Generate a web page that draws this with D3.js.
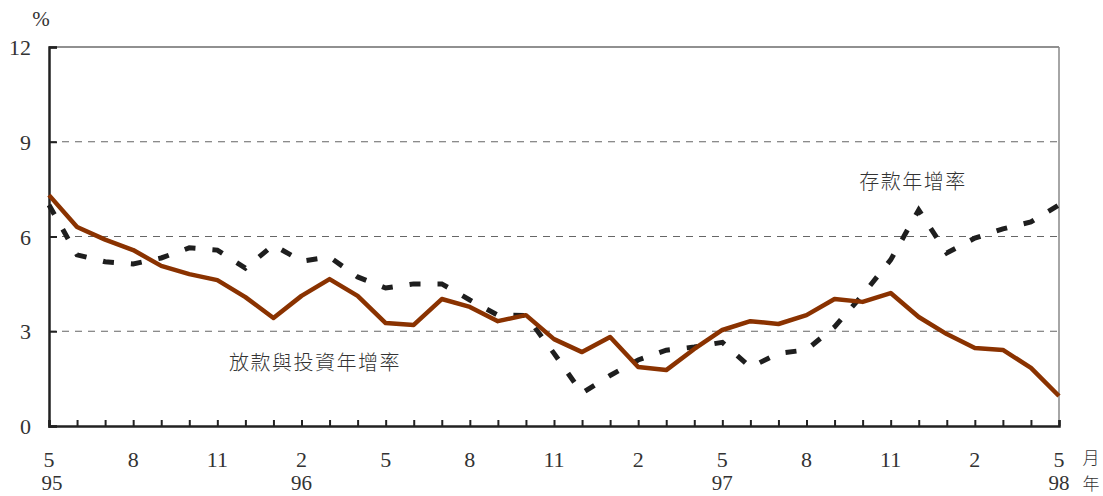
<!DOCTYPE html>
<html><head><meta charset="utf-8">
<script src="https://cdn.jsdelivr.net/npm/d3@7/dist/d3.min.js"></script>
<style>body{margin:0;background:#fff;}svg{display:block;}
.sf{font-family:"Liberation Serif","Times New Roman","Tinos","Nimbus Roman","DejaVu Serif",serif;}</style>
</head><body><svg id="c" width="1103" height="496"></svg>
<script>
const months = [5,6,7,8,9,10,11,12,1,2,3,4,5,6,7,8,9,10,11,12,1,2,3,4,5,6,7,8,9,10,11,12,1,2,3,4,5];
const monthLabels = [{i:0,t:"5"},{i:3,t:"8"},{i:6,t:"11"},{i:9,t:"2"},{i:12,t:"5"},{i:15,t:"8"},{i:18,t:"11"},{i:21,t:"2"},{i:24,t:"5"},{i:27,t:"8"},{i:30,t:"11"},{i:33,t:"2"},{i:36,t:"5"}];
const yearLabels = [{i:0,t:"95"},{i:9,t:"96"},{i:24,t:"97"},{i:36,t:"98"}];
const loans = [7.31,6.3,5.9,5.57,5.07,4.81,4.62,4.08,3.42,4.12,4.65,4.12,3.26,3.2,4.02,3.77,3.32,3.51,2.75,2.34,2.82,1.87,1.77,2.44,3.04,3.32,3.23,3.51,4.02,3.93,4.21,3.45,2.91,2.47,2.41,1.84,0.95];
const deposits = [7.0,5.42,5.2,5.13,5.32,5.64,5.57,5.0,5.73,5.22,5.35,4.72,4.37,4.5,4.5,3.99,3.51,3.5,2.3,1.04,1.6,2.09,2.4,2.5,2.65,1.86,2.3,2.41,3.14,4.15,5.26,6.84,5.48,5.95,6.24,6.46,7.0];
const yTicks = [0,3,6,9,12];

const svg = d3.select("#c");
const L=49,R=1059,T=47,B=426;
const x = d3.scaleLinear().domain([0,36]).range([L,R]);
const y = d3.scaleLinear().domain([0,12]).range([B,T]);
const cjk = "'Noto Sans CJK TC','Noto Sans CJK SC',sans-serif";

svg.append("g").selectAll("line").data([3,6,9]).join("line")
  .attr("x1",L).attr("x2",R).attr("y1",d=>y(d)).attr("y2",d=>y(d))
  .attr("stroke","#666").attr("stroke-width",1.2).attr("stroke-dasharray","7,6");
svg.append("line").attr("x1",L).attr("x2",R).attr("y1",y(12)).attr("y2",y(12)).attr("stroke","#222").attr("stroke-width",1.2);
svg.append("line").attr("x1",R).attr("x2",R).attr("y1",T).attr("y2",B).attr("stroke","#888").attr("stroke-width",1.5);

const yAxis = d3.axisRight(y).tickValues(yTicks).tickSize(8).tickFormat("");
const ga = svg.append("g").attr("transform",`translate(${L},0)`).call(yAxis);
ga.select(".domain").attr("stroke","#222").attr("stroke-width",2.5);
ga.selectAll(".tick line").attr("stroke","#222").attr("stroke-width",2);
svg.append("g").selectAll("text").data(yTicks).join("text").attr("class","sf")
  .attr("x",31).attr("y",d=>y(d)+8).attr("text-anchor","end")
  .attr("font-size",22).attr("fill","#333").text(d=>d);
svg.append("text").attr("class","sf").attr("x",41).attr("y",26).attr("text-anchor","middle")
  .attr("font-size",21).attr("fill","#333").text("%");

const xAxis = d3.axisTop(x).tickValues(d3.range(0,37)).tickSize(6).tickFormat("");
const gx = svg.append("g").attr("transform",`translate(0,${B})`).call(xAxis);
gx.select(".domain").attr("stroke","#222").attr("stroke-width",2.5);
gx.selectAll(".tick line").attr("stroke","#222").attr("stroke-width",2);
svg.append("g").selectAll("text").data(monthLabels).join("text").attr("class","sf")
  .attr("x",d=>x(d.i)).attr("y",467).attr("text-anchor","middle")
  .attr("font-size",22).attr("fill","#333").text(d=>d.t);
svg.append("g").selectAll("text").data(yearLabels).join("text").attr("class","sf")
  .attr("x",d=>x(d.i)+(d.i===0?3:0)).attr("y",490).attr("text-anchor","middle")
  .attr("font-size",21).attr("fill","#333").text(d=>d.t);
svg.append("text").attr("x",1091).attr("y",464).attr("text-anchor","middle")
  .attr("font-family",cjk).attr("font-size",17).attr("font-weight",300).attr("fill","#333").text("月");
svg.append("text").attr("x",1091).attr("y",490).attr("text-anchor","middle")
  .attr("font-family",cjk).attr("font-size",17).attr("font-weight",300).attr("fill","#333").text("年");

const line = d3.line().x((d,i)=>x(i)).y(d=>y(d));
svg.append("path").datum(deposits).attr("d",line).attr("fill","none")
  .attr("stroke","#1e1e1e").attr("stroke-width",5).attr("stroke-dasharray","11,17");
svg.append("path").datum(loans).attr("d",line).attr("fill","none")
  .attr("stroke","#8a3200").attr("stroke-width",4.5).attr("stroke-linejoin","round");

svg.append("text").attr("x",913).attr("y",189).attr("text-anchor","middle")
  .attr("font-family",cjk).attr("font-size",20).attr("font-weight",300).attr("letter-spacing",1.5).attr("fill","#333").text("存款年增率");
svg.append("text").attr("x",315).attr("y",370).attr("text-anchor","middle")
  .attr("font-family",cjk).attr("font-size",20).attr("font-weight",300).attr("letter-spacing",1.5).attr("fill","#333").text("放款與投資年增率");
</script></body></html>
